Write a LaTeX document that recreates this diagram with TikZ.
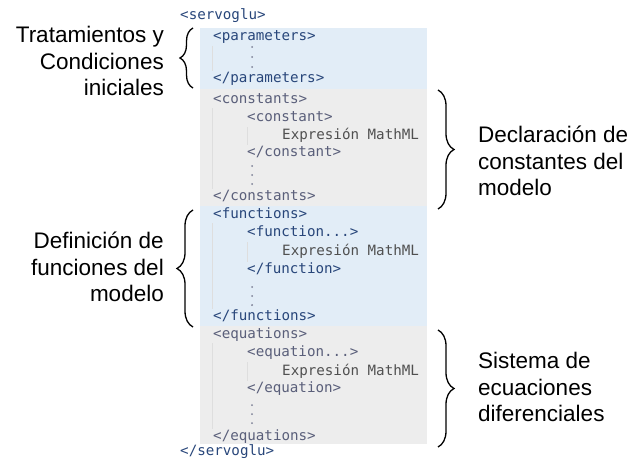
\documentclass[tikz,border=0pt]{standalone}
\usepackage{fontspec}
\setmainfont{Liberation Sans}
\newfontfamily\codefont{DejaVu Sans Mono}
\usetikzlibrary{decorations.pathreplacing, positioning}
\definecolor{boxblue}{RGB}{226,237,247}
\definecolor{boxgrey}{RGB}{237,237,237}
\definecolor{tagblue}{RGB}{40,70,122}
\definecolor{taggrey}{RGB}{90,95,122}
\definecolor{exprgrey}{RGB}{80,80,80}

\begin{document}
\begin{tikzpicture}[x=1pt, y=-1pt,
    code/.style={font=\codefont\fontsize{14.2}{17}\selectfont, anchor=west, inner sep=0pt, text height=10pt, text depth=3pt},
    note/.style={font=\fontsize{22.5}{26.5}\selectfont, inner sep=0pt},
    guide/.style={black!13, line width=0.8pt},
    curly/.style={decorate, decoration={brace, amplitude=#1}, line width=1.3pt}]
                    \useasboundingbox (0,0) rectangle (636,460);
                    % bands
                    \fill[boxblue] (200,28) rectangle (427,89);
                    \fill[boxgrey] (200,89) rectangle (427,206);
                    \fill[boxblue] (200,206) rectangle (427,326);
                    \fill[boxgrey] (200,326) rectangle (427,444);
                    \draw[guide] (212,46) -- (212,71);
                    \draw[guide] (212,108) -- (212,189);
                    \draw[guide] (247,127) -- (247,145);
                    \draw[guide] (212,223) -- (212,309);
                    \draw[guide] (247,242) -- (247,262);
                    \draw[guide] (212,343) -- (212,429);
                    \draw[guide] (247,362) -- (247,381);
                    % code lines
                    \node[code, tagblue] (svo) at (180,16) {<servoglu>};
                    \node[code, tagblue] (par) at (213,37) {<parameters>};
                    \node[code, tagblue] (parend) at (213,79) {</parameters>};
                    \node[code, taggrey] (con) at (213,100) {<constants>};
                    \node[code, taggrey] (coni) at (247,118) {<constant>};
                    \node[code, exprgrey] (conx) at (282,136) {Expresión MathML};
                    \node[code, taggrey] (coniend) at (247,153) {</constant>};
                    \node[code, taggrey] (conend) at (213,197) {</constants>};
                    \node[code, tagblue] (fun) at (213,215) {<functions>};
                    \node[code, tagblue] (funi) at (247,233) {<function...>};
                    \node[code, exprgrey] (funx) at (282,252) {Expresión MathML};
                    \node[code, tagblue] (funiend) at (247,270) {</function>};
                    \node[code, tagblue] (funend) at (213,317) {</functions>};
                    \node[code, taggrey] (equ) at (213,335) {<equations>};
                    \node[code, taggrey] (equi) at (247,353) {<equation...>};
                    \node[code, exprgrey] (equx) at (282,372) {Expresión MathML};
                    \node[code, taggrey] (equiend) at (247,389) {</equation>};
                    \node[code, taggrey] (equend) at (213,437) {</equations>};
                    \node[code, tagblue] (svoend) at (180,452) {</servoglu>};
                    \foreach \y in {47,57,67,166,175,184,287,296,305,405,414,423}
                        \fill[taggrey!80] (252,\y) circle (1);
                    % braces
                    \coordinate (tratlo) at (193,88);
                    \coordinate (trathi) at (193,28);
                    \coordinate (declhi) at (438,90);
                    \coordinate (decllo) at (438,209);
                    \coordinate (defilo) at (193,327);
                    \coordinate (defihi) at (193,210);
                    \coordinate (sisthi) at (438,330);
                    \coordinate (sistlo) at (438,447);
                    \draw[curly=13pt] (tratlo) -- (trathi);
                    \draw[curly=16pt] (declhi) -- (decllo);
                    \draw[curly=16pt] (defilo) -- (defihi);
                    \draw[curly=16pt] (sisthi) -- (sistlo);
                    % captions
                    \node[note, align=right, anchor=east] (trat) at (164,61) {Tratamientos y\\Condiciones\\iniciales};
                    \node[note, align=left, anchor=west] (decl) at (478,161) {Declaración de\\constantes del\\modelo};
                    \node[note, align=right, anchor=east] (defi) at (164,267) {Definición de\\funciones del\\modelo};
                    \node[note, align=left, anchor=west] (sist) at (478,387) {Sistema de\\ecuaciones\\diferenciales};
                \end{tikzpicture}
\end{document}
